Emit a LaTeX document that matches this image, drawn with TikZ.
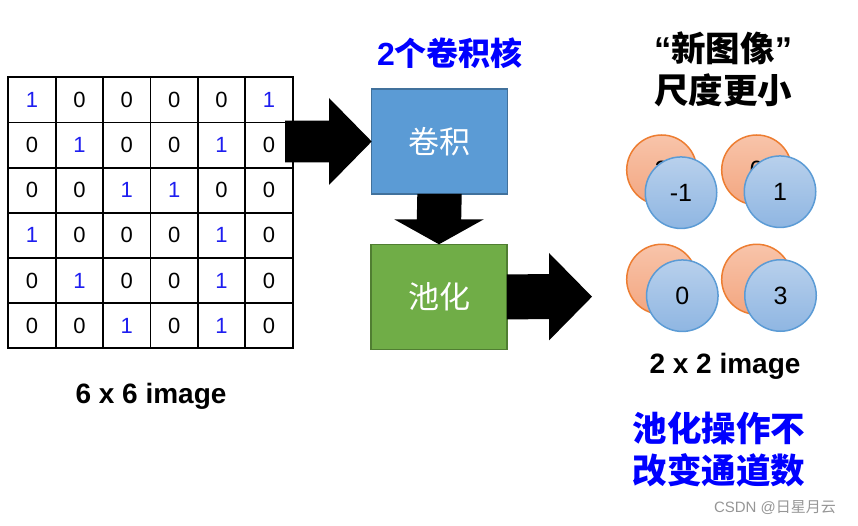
\documentclass[tikz,border=0pt]{standalone}
\usepackage{fontspec}
\setmainfont{Liberation Sans}
\newfontfamily\cjk{Noto Sans CJK SC}
\usetikzlibrary{calc}
\definecolor{numblue}{RGB}{30,30,240}
\definecolor{titleblue}{RGB}{0,0,255}
\definecolor{convfill}{RGB}{91,155,213}
\definecolor{convedge}{RGB}{65,113,156}
\definecolor{poolfill}{RGB}{112,173,71}
\definecolor{pooledge}{RGB}{80,126,50}
\definecolor{orangeedge}{RGB}{237,125,49}
\definecolor{orangetop}{RGB}{248,196,170}
\definecolor{orangebot}{RGB}{243,166,128}
\definecolor{blueedge}{RGB}{91,155,213}
\definecolor{bluetop}{RGB}{184,208,236}
\definecolor{bluebot}{RGB}{143,182,226}
\definecolor{wmgray}{RGB}{150,150,150}
\tikzset{
  cell/.style={draw, line width=1.8, minimum width=47.4, minimum height=45.17, inner sep=0, outer sep=0, font=\fontsize{22}{22}\selectfont},
  procbox/.style={draw, line width=1.5, minimum width=135.6, minimum height=105, inner sep=0, outer sep=0, text=white, font=\cjk\fontsize{31}{31}\selectfont},
  blockarrow/.style={fill=black},
  orb/.style={circle, draw=orangeedge, line width=1.5, minimum size=70, inner sep=0, top color=orangetop, bottom color=orangebot, font=\fontsize{25}{25}\selectfont},
  bead/.style={circle, draw=blueedge, line width=1.5, minimum size=71.5, inner sep=0, top color=bluetop, bottom color=bluebot, font=\fontsize{25}{25}\selectfont},
  caption/.style={font=\bfseries\fontsize{28}{28}\selectfont, inner sep=0},
}
\begin{document}
\begin{tikzpicture}[x=1pt,y=-1pt]
\useasboundingbox (0,0) rectangle (858,526);
% grid
\foreach \r [count=\i from 0] in {{1,0,0,0,0,1},{0,1,0,0,1,0},{0,0,1,1,0,0},{1,0,0,0,1,0},{0,1,0,0,1,0},{0,0,1,0,1,0}}{
  \foreach \v [count=\j from 0] in \r {
    \node[cell] (c\i\j) at ({8.3+47.4*\j+23.7},{77.3+45.17*\i+22.58}) {\ifnum\v=1 \color{numblue}\fi\v};
  }
}
% boxes
\node[procbox, fill=convfill, draw=convedge] (conv) at (439.5,141.5) {卷积};
\node[procbox, fill=poolfill, draw=pooledge] (pool) at (439,296.8) {池化};
% arrow 1
\fill[blockarrow] ($(conv.west)+(-86.7,-20.8)$) -- ($(conv.west)+(-42.7,-20.8)$) -- ($(conv.west)+(-42.7,-43.5)$) -- (conv.west) -- ($(conv.west)+(-42.7,43.5)$) -- ($(conv.west)+(-42.7,20.8)$) -- ($(conv.west)+(-86.7,20.8)$) -- cycle;
% arrow 2
\fill[blockarrow] ($(conv.south)+(-22.2,0)$) -- ($(pool.north)+(-22.2,-25)$) -- ($(pool.north)+(-44.8,-25)$) -- (pool.north) -- ($(pool.north)+(44.8,-25)$) -- ($(pool.north)+(22.2,-25)$) -- ($(conv.south)+(22.2,0)$) -- cycle;
% arrow 3
\coordinate (tip3) at (592,296.7);
\fill[blockarrow] ($(pool.east)+(0,-22.5)$) -- ($(tip3)+(-43,-22.5)$) -- ($(tip3)+(-43,-43.7)$) -- (tip3) -- ($(tip3)+(-43,43.7)$) -- ($(tip3)+(-43,22.5)$) -- ($(pool.east)+(0,22.5)$) -- cycle;
% feature maps
\node[orb] (o1) at (661.7,170) {3};
\node[orb] (o2) at (756.7,170) {0};
\node[orb] (o3) at (661.7,279.3) {3};
\node[orb] (o4) at (756.7,279.3) {1};
\node[bead] (b1) at (681,192.7) {-1};
\node[bead] (b2) at (780,191.7) {1};
\node[bead] (b3) at (682.3,295.7) {0};
\node[bead] (b4) at (780.5,295.5) {3};
% texts
\node[inner sep=0, text=titleblue, font=\bfseries\fontsize{32}{32}\selectfont] (title) at (450,53) {2\cjk 个卷积核};
\node[inner sep=0, align=center, font=\bfseries\fontsize{34.5}{42}\selectfont] (newimg) at (723,69) {“{\cjk 新图像}”\\{\cjk 尺度更小}};
\node[caption] (cap6) at (151,396) {6 x 6 image};
\node[caption] (cap2) at (725,366) {2 x 2 image};
\node[inner sep=0, align=center, text=titleblue, font=\cjk\bfseries\fontsize{34.5}{42}\selectfont] (note) at (719,449) {池化操作不\\改变通道数};
\node[inner sep=0, text=wmgray, font=\fontsize{15}{15}\selectfont] (wm) at (775,508) {CSDN @{\cjk 日星月云}};
\end{tikzpicture}
\end{document}
